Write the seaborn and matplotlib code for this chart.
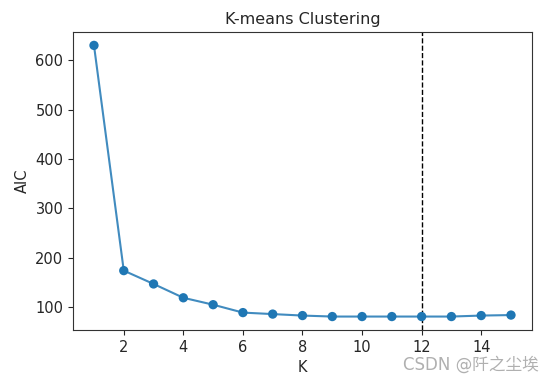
import numpy as np
import pandas as pd
import seaborn as sns
import matplotlib.pyplot as plt

# K 값과 AIC 값
k_values = [1, 2, 3, 4, 5, 6, 7, 8, 9, 10, 11, 12, 13, 14, 15]
aic_values = [630, 174, 147, 119, 105, 89, 86, 83, 81, 81, 81, 81, 81, 83, 84]
best_k = 12

df = pd.DataFrame({'K': k_values, 'AIC': aic_values})

sns.set_style('ticks')
plt.rcParams['font.family'] = ['DejaVu Sans', 'Noto Sans CJK SC']

fig = plt.figure(figsize=(5.54, 3.79), dpi=100)
ax = fig.add_axes([0.132, 0.129, 0.828, 0.787])

sns.lineplot(data=df, x='K', y='AIC', ax=ax, color='#1f77b4', alpha=0.85, lw=1.5)
sns.scatterplot(data=df, x='K', y='AIC', ax=ax, color='#1f77b4', s=45, edgecolor='none', zorder=3)
ax.axvline(best_k, color='black', linestyle='--', lw=1)

ax.set_xticks([2, 4, 6, 8, 10, 12, 14])
ax.set_title('K-means Clustering', fontsize=11.5)
ax.set_xlabel('K', fontsize=10.5)
ax.set_ylabel('AIC', fontsize=10.5)
ax.tick_params(labelsize=10.5)
for s in ax.spines.values():
    s.set_color('#333333')

# 워터마크 (눈금 라벨과 겹치지 않게 조금 아래로)
fig.text(0.972, 0.014, 'CSDN @阡之尘埃', ha='right', va='bottom', fontsize=12,
         color='#b0b0b0', family=['DejaVu Sans', 'Noto Sans CJK SC'])

fig.savefig('out.png', dpi=100)
